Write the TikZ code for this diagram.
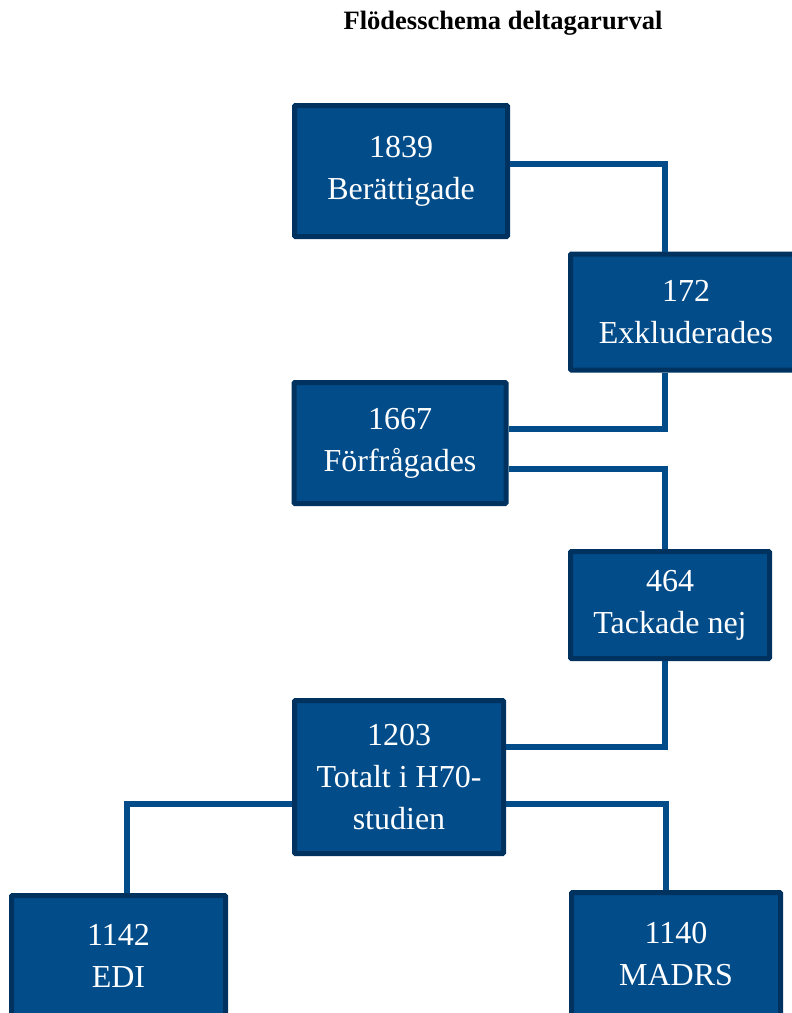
\documentclass[tikz,border=0pt]{standalone}
\usepackage{fontspec}
\setmainfont{Liberation Serif}
\usepackage{xcolor}
\usepackage{tikz}
\definecolor{boxblue}{RGB}{2,76,138}
\definecolor{boxedge}{RGB}{0,50,96}
\tikzset{
  flowbox/.style={
    rectangle, rounded corners=1pt,
    fill=boxblue, draw=boxedge, line width=5pt,
    text=white, align=center, inner sep=0pt,
    font=\fontsize{32}{42}\selectfont,
    #1
  },
  link/.style={
    draw=boxblue, line width=6pt
  }
}

\begin{document}
\begin{tikzpicture}[x=1pt,y=-1pt]
        \useasboundingbox (0,0) rectangle (792,1013);
        \node[anchor=base, font=\fontsize{26.5}{30}\selectfont\bfseries] (title) at (503,29) {Flödesschema deltagarurval};
        \begin{scope}[every node/.style={flowbox}]
            \node[minimum width=213pt, minimum height=131pt] (B) at (401,171) {1839\\Berättigade};
            \node[minimum width=231pt, minimum height=116pt] (E) at (686,312) {172\\Exkluderades};
            \node[minimum width=212pt, minimum height=121pt] (F) at (400,443) {1667\\Förfrågades};
            \node[minimum width=199pt, minimum height=107pt] (T) at (670,605) {464\\Tackade nej};
            \node[minimum width=209pt, minimum height=153pt] (H) at (399,777) {1203\\Totalt i H70-\\studien};
            \node[minimum width=214pt, minimum height=120pt] (D) at (118.5,955.5) {1142\\EDI};
            \node[minimum width=209pt, minimum height=123pt] (M) at (676,954) {1140\\MADRS};
        \end{scope}
        \begin{scope}[every path/.style={link}]
            \draw ([yshift=7pt]B.east) -| ([xshift=-21pt]E.north);
            \draw ([xshift=-21pt]E.south) |- ([yshift=14pt]F.east);

            \draw ([yshift=-26pt]F.east) -| ([xshift=-5pt]T.north);
            \draw ([xshift=-5pt]T.south) |- ([yshift=30pt]H.east);

            \draw ([yshift=-27pt]H.west) -| ([xshift=8pt]D.north);
            \draw ([yshift=-27pt]H.east) -| ([xshift=-10pt]M.north);
        \end{scope}
    \end{tikzpicture}
\end{document}
